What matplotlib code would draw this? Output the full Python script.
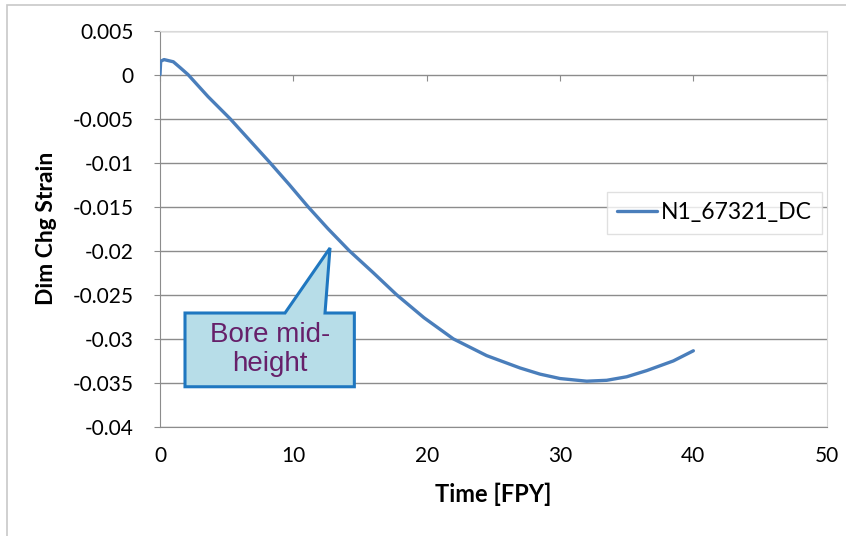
import matplotlib
matplotlib.use('Agg')
import matplotlib.pyplot as plt
from matplotlib.patches import Polygon, Rectangle

# Data
time_fpy = [0, 0.05, 0.3, 1.0, 1.5, 2.1, 3.6, 5.25, 6.75, 8.25, 9.7, 11.1,
            12.6, 14.2, 16.0, 17.75, 19.8, 22.0, 24.5, 27.0, 28.5, 30.0,
            32.0, 33.5, 35.0, 36.5, 38.5, 40.0]
strain = [0, 0.0015, 0.0017, 0.00145, 0.0008, 0.0, -0.0025, -0.005, -0.0075,
          -0.01, -0.0125, -0.015, -0.0175, -0.02, -0.0225, -0.025, -0.0276,
          -0.03, -0.0319, -0.0333, -0.034, -0.0345, -0.0348, -0.0347,
          -0.0343, -0.0336, -0.0325, -0.03135]
series_name = 'N1_67321_DC'
x_ticks = [0, 10, 20, 30, 40, 50]
y_ticks = [0.005, 0, -0.005, -0.01, -0.015, -0.02, -0.025, -0.03, -0.035, -0.04]
y_tick_labels = ['0.005', '0', '-0.005', '-0.01', '-0.015', '-0.02', '-0.025',
                 '-0.03', '-0.035', '-0.04']

plt.rcParams['font.family'] = ['Lato', 'DejaVu Sans']

fig = plt.figure(figsize=(8.46, 5.36), dpi=100)
ax = fig.add_axes([160 / 846, 1 - 427 / 536, 666.7 / 846, 396.5 / 536])

# outer chart border
fig.patches.append(Rectangle((7 / 846, -0.1), 1.2, 1 - 5 / 536 + 0.1,
                             transform=fig.transFigure, fill=False,
                             edgecolor='#c8c8c8', linewidth=1.2))

ax.plot(time_fpy, strain, color='#4a7ebb', linewidth=2.4, label=series_name,
        solid_capstyle='round', solid_joinstyle='round', zorder=3)

ax.set_xlim(0, 50)
ax.set_ylim(-0.04, 0.005)
ax.set_xticks(x_ticks)
ax.set_yticks(y_ticks)
ax.set_yticklabels(y_tick_labels)
ax.grid(axis='y', color='#8c8c8c', linewidth=1.0)
ax.set_axisbelow(True)

for side in ['top', 'right', 'bottom']:
    ax.spines[side].set_color('#d9d9d9')
ax.spines['left'].set_color('#8c8c8c')
ax.spines['bottom'].set_color('#8c8c8c')

ax.tick_params(axis='y', direction='out', length=4, color='#8c8c8c',
               labelsize=15, pad=15)
ax.tick_params(axis='x', length=0, labelsize=15, pad=14)

# x axis crosses at y = 0, ticks drawn there
sec = ax.secondary_xaxis(0.04 / 0.045)
sec.set_xticks(x_ticks)
sec.tick_params(axis='x', direction='out', length=4, color='#8c8c8c',
                labelbottom=False, labeltop=False, bottom=True, top=False)
sec.spines['bottom'].set_visible(False)
sec.spines['top'].set_visible(False)

ax.set_xlabel('Time [FPY]', fontsize=17, fontweight='bold', labelpad=12)
ax.set_ylabel('Dim Chg Strain', fontsize=16.5, fontweight='bold', labelpad=11)

leg = ax.legend(loc='upper left', bbox_to_anchor=(0.6705, 0.5927),
                borderaxespad=0, fontsize=16.5, frameon=True, fancybox=False,
                handlelength=1.75, handletextpad=0.15, borderpad=0.45)
leg.get_frame().set_edgecolor('#d9d9d9')
leg.get_frame().set_linewidth(1.0)

# callout "Bore mid-height"
callout = [(0.0375, 0.2875), (0.1875, 0.2875), (0.255, 0.4515),
           (0.2475, 0.2875), (0.2915, 0.2875), (0.2915, 0.1015),
           (0.0375, 0.1015)]
ax.add_patch(Polygon(callout, closed=True, transform=ax.transAxes,
                     facecolor='#b7dde8', edgecolor='#1f77c0', linewidth=2.2,
                     zorder=4, joinstyle='miter'))
ax.text(0.1645, 0.195, 'Bore mid-\nheight', transform=ax.transAxes,
        fontsize=20, color='#66206a', family=['Liberation Sans'],
        ha='center', va='center', linespacing=1.12, zorder=5)

fig.savefig('out.png', dpi=100)
